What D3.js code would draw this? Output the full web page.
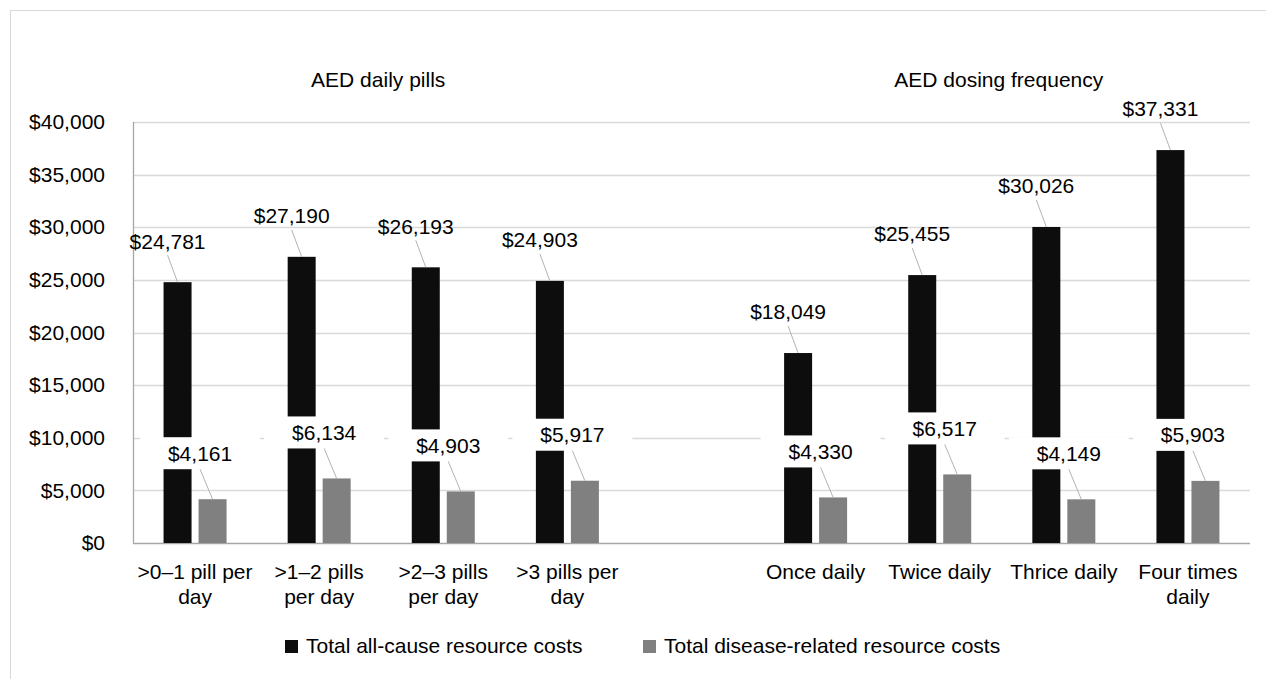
<!DOCTYPE html>
<html>
<head>
<meta charset="utf-8">
<script src="https://cdn.jsdelivr.net/npm/d3@7"></script>
<style>
  html, body { margin: 0; padding: 0; background: #fff; }
  svg { display: block; font-family: "Liberation Sans", Arial, sans-serif; }
</style>
</head>
<body>
<svg id="chart" width="1266" height="679"></svg>
<script>
// ---- data ----
const groupTitles = ["AED daily pills", "AED dosing frequency"];
const pillCategories = [">0\u20131 pill per day", ">1\u20132 pills per day", ">2\u20133 pills per day", ">3 pills per day"];
const freqCategories = ["Once daily", "Twice daily", "Thrice daily", "Four times daily"];
const seriesNames = ["Total all-cause resource costs", "Total disease-related resource costs"];
const allCauseCosts = [24781, 27190, 26193, 24903, 18049, 25455, 30026, 37331];
const diseaseCosts = [4161, 6134, 4903, 5917, 4330, 6517, 4149, 5903];
const yTicks = [0, 5000, 10000, 15000, 20000, 25000, 30000, 35000, 40000];

// ---- layout ----
const svg = d3.select("#chart");
const plot = { left: 133, right: 1250, top: 122, bottom: 543 };
const fontSize = 21;
const colors = ["#0d0d0d", "#808080"];

const categories = [...pillCategories, ...freqCategories];
const gapKey = "__gap__";
const slots = [...pillCategories, gapKey, ...freqCategories];

const x0 = d3.scaleBand().domain(slots).range([plot.left, plot.right]).padding(0);
const x1 = d3.scaleBand().domain([0, 1]).range([0, x0.bandwidth()])
  .paddingInner(0.2).paddingOuter(0.873);
const y = d3.scaleLinear().domain([0, 40000]).range([plot.bottom, plot.top]);
const fmt = d3.format("$,");

// frame
svg.append("rect").attr("x", 10.5).attr("y", 10.5).attr("width", 1400).attr("height", 800)
  .attr("fill", "none").attr("stroke", "#d9d9d9").attr("stroke-width", 1);

// gridlines
svg.append("g").selectAll("line").data(yTicks.filter(d => d > 0)).join("line")
  .attr("x1", plot.left).attr("x2", plot.right)
  .attr("y1", d => Math.round(y(d)) + 0.5).attr("y2", d => Math.round(y(d)) + 0.5)
  .attr("stroke", "#d9d9d9").attr("stroke-width", 1.3);

// y axis
const yAxis = d3.axisLeft(y).tickValues(yTicks).tickFormat(fmt).tickSize(0).tickPadding(28);
const gy = svg.append("g").attr("transform", `translate(${plot.left},0)`).call(yAxis);
gy.select(".domain").remove();
gy.selectAll("text").attr("font-size", fontSize).attr("fill", "#000")
  .attr("font-family", "Liberation Sans, Arial, sans-serif");

// axis lines
svg.append("line").attr("x1", plot.left + 0.5).attr("x2", plot.left + 0.5)
  .attr("y1", plot.top).attr("y2", plot.bottom).attr("stroke", "#a6a6a6").attr("stroke-width", 1.3);
svg.append("line").attr("x1", plot.left).attr("x2", plot.right)
  .attr("y1", plot.bottom + 0.5).attr("y2", plot.bottom + 0.5).attr("stroke", "#a6a6a6").attr("stroke-width", 1.3);

// bar records
const bars = [];
categories.forEach((c, i) => {
  bars.push({ cat: c, s: 0, v: allCauseCosts[i] });
  bars.push({ cat: c, s: 1, v: diseaseCosts[i] });
});
const bx = d => x0(d.cat) + x1(d.s);
const bcx = d => bx(d) + x1.bandwidth() / 2;

svg.append("g").selectAll("rect").data(bars).join("rect")
  .attr("x", bx).attr("width", x1.bandwidth())
  .attr("y", d => y(d.v)).attr("height", d => y(0) - y(d.v))
  .attr("fill", d => colors[d.s]);

// data labels (offset from bar top)
const labelOffset = [{ dx: -10, dy: -41 }, { dx: -12.5, dy: -46 }];
const lx = d => bcx(d) + labelOffset[d.s].dx;
const ly = d => y(d.v) + labelOffset[d.s].dy;

// white boxes behind disease-related labels
const grayBars = bars.filter(d => d.s === 1);
svg.append("g").selectAll("rect").data(grayBars).join("rect")
  .attr("x", d => lx(d) - 60).attr("width", 120)
  .attr("y", d => ly(d) - 16).attr("height", 32)
  .attr("fill", "#fff");

// leader lines
svg.append("g").selectAll("line").data(bars).join("line")
  .attr("x1", lx).attr("y1", d => ly(d) + (d.s === 0 ? 14 : 16))
  .attr("x2", bcx).attr("y2", d => y(d.v))
  .attr("stroke", "#b3b3b3").attr("stroke-width", 1);

svg.append("g").selectAll("text").data(bars).join("text")
  .attr("x", lx).attr("y", ly).attr("dy", "0.35em")
  .attr("text-anchor", "middle").attr("font-size", fontSize).attr("fill", "#000")
  .text(d => fmt(d.v));

// category labels with wrapping
function wrapLines(text, width) {
  const tmp = svg.append("text").attr("font-size", fontSize).attr("visibility", "hidden");
  const words = text.split(" ");
  const lines = [];
  let cur = "";
  words.forEach(w => {
    const test = cur ? cur + " " + w : w;
    tmp.text(test);
    if (tmp.node().getComputedTextLength() > width && cur) {
      lines.push(cur); cur = w;
    } else cur = test;
  });
  if (cur) lines.push(cur);
  tmp.remove();
  return lines;
}
const catG = svg.append("g");
categories.forEach(c => {
  const lines = wrapLines(c, 118);
  const t = catG.append("text").attr("text-anchor", "middle").attr("font-size", fontSize).attr("fill", "#000");
  lines.forEach((ln, i) => {
    t.append("tspan").attr("x", x0(c) + x0.bandwidth() / 2).attr("y", 572 + i * 25).attr("dy", "0.35em").text(ln);
  });
});

// group titles
const groups = [pillCategories, freqCategories];
groups.forEach((g, i) => {
  const a = x0(g[0]), b = x0(g[g.length - 1]) + x0.bandwidth();
  svg.append("text").attr("x", (a + b) / 2 - 3).attr("y", 80).attr("dy", "0.35em")
    .attr("text-anchor", "middle").attr("font-size", fontSize).attr("fill", "#000")
    .text(groupTitles[i]);
});

// legend
const legendX = [285, 643];
const lg = svg.append("g");
seriesNames.forEach((n, i) => {
  lg.append("rect").attr("x", legendX[i]).attr("y", 640).attr("width", 13).attr("height", 13).attr("fill", colors[i]);
  lg.append("text").attr("x", legendX[i] + 21).attr("y", 646).attr("dy", "0.35em")
    .attr("font-size", fontSize).attr("fill", "#000").text(n);
});
</script>
</body>
</html>
